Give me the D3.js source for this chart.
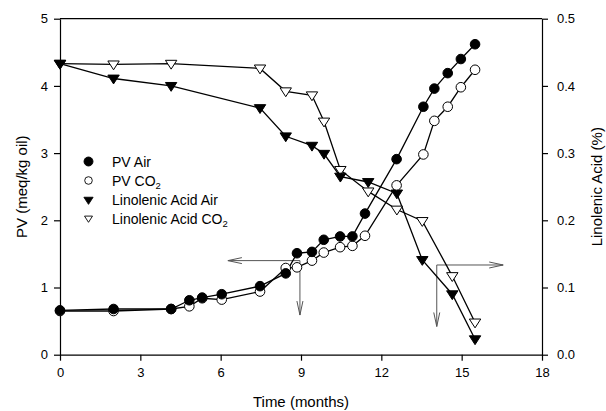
<!DOCTYPE html>
<html><head><meta charset="utf-8">
<script src="https://cdn.jsdelivr.net/npm/d3@7"></script>
<style>body{margin:0;background:#fff}svg{display:block}text{font-family:Arial,"Liberation Sans",sans-serif;fill:#000}</style>
</head><body><svg id="c" width="606" height="411"></svg>
<script>
const pvTime = [0, 2, 4.15, 4.83, 5.31, 6.04, 7.47, 8.43, 8.85, 9.41, 9.85, 10.46, 10.92, 11.39, 12.57, 13.57, 13.98, 14.48, 14.97, 15.5];
const pvAir  = [0.66, 0.68, 0.68, 0.81, 0.85, 0.90, 1.02, 1.21, 1.51, 1.53, 1.71, 1.76, 1.76, 2.10, 2.91, 3.69, 3.96, 4.19, 4.40, 4.62];
const pvCO2  = [0.65, 0.65, 0.68, 0.72, 0.84, 0.82, 0.94, 1.29, 1.30, 1.40, 1.52, 1.60, 1.62, 1.77, 2.52, 2.98, 3.48, 3.69, 3.98, 4.24];
const laTime = [0, 2, 4.15, 7.47, 8.43, 9.41, 9.86, 10.47, 11.51, 12.58, 13.53, 14.65, 15.5];
const laAir  = [0.433, 0.411, 0.400, 0.367, 0.325, 0.311, 0.299, 0.265, 0.257, 0.240, 0.141, 0.090, 0.023];
const laCO2  = [0.433, 0.432, 0.433, 0.426, 0.392, 0.386, 0.347, 0.275, 0.243, 0.216, 0.199, 0.117, 0.048];
const xTicks = [0, 3, 6, 9, 12, 15, 18];
const yLeftTicks = [0, 1, 2, 3, 4, 5];
const yRightTicks = [0.0, 0.1, 0.2, 0.3, 0.4, 0.5];
const legendLabels = ["PV Air", "PV CO", "Linolenic Acid Air", "Linolenic Acid CO"];
// annotation arrows in data units: corner time, corner PV, horizontal end time, vertical end PV
const arrow1 = {t: 8.96, pv: 1.40, tEnd: 6.27, pvEnd: 0.59};
const arrow2 = {t: 14.07, pv: 1.335, tEnd: 16.55, pvEnd: 0.42};

const svg = d3.select("#c");
const L = 60, R = 542, T = 18.7, B = 354.7;
const x = d3.scaleLinear().domain([0, 18]).range([L, R]);
const yL = d3.scaleLinear().domain([0, 5]).range([B, T]);
const yR = d3.scaleLinear().domain([0, 0.5]).range([B, T]);

svg.append("line").attr("x1", L).attr("x2", R).attr("y1", T).attr("y2", T).attr("stroke", "#000").attr("stroke-width", 1.2);

function styleAxis(g) {
  g.selectAll("path").attr("stroke", "#000").attr("stroke-width", 1.2);
  g.selectAll("line").attr("stroke", "#000").attr("stroke-width", 1.2);
  g.selectAll("text").attr("font-size", 13).attr("font-family", "Arial, 'Liberation Sans', sans-serif");
}
svg.append("g").attr("transform", `translate(0,${B})`)
  .call(d3.axisBottom(x).tickValues(xTicks).tickSize(6).tickSizeOuter(0).tickPadding(7).tickFormat(d3.format("d")))
  .call(styleAxis);
svg.append("g").attr("transform", `translate(${L},0)`)
  .call(d3.axisLeft(yL).tickValues(yLeftTicks).tickSize(6).tickSizeOuter(0).tickPadding(6).tickFormat(d3.format("d")))
  .call(styleAxis);
svg.append("g").attr("transform", `translate(${R},0)`)
  .call(d3.axisRight(yR).tickValues(yRightTicks).tickSize(6).tickSizeOuter(0).tickPadding(9).tickFormat(d3.format(".1f")))
  .call(styleAxis);

svg.append("text").attr("x", 301).attr("y", 407).attr("text-anchor", "middle").attr("font-size", 15).text("Time (months)");
svg.append("text").attr("transform", `translate(27,${(T + B) / 2}) rotate(-90)`).attr("text-anchor", "middle").attr("font-size", 15).text("PV (meq/kg oil)");
svg.append("text").attr("transform", `translate(602,${(T + B) / 2}) rotate(-90)`).attr("text-anchor", "middle").attr("font-size", 15).text("Linolenic Acid (%)");

const arrowColor = "#555";
function drawHead(x0, y0, dx, dy) {
  const len = 14, half = 3;
  const px = -dy, py = dx;
  const pts = [[x0 - dx * len + px * half, y0 - dy * len + py * half], [x0, y0], [x0 - dx * len - px * half, y0 - dy * len - py * half]];
  svg.append("path").attr("d", d3.line()(pts)).attr("fill", "none").attr("stroke", arrowColor).attr("stroke-width", 1);
}
function drawArrow(a, dir) {
  const cx = x(a.t), cy = yL(a.pv);
  svg.append("line").attr("x1", cx).attr("y1", cy).attr("x2", x(a.tEnd)).attr("y2", cy).attr("stroke", arrowColor).attr("stroke-width", 1);
  svg.append("line").attr("x1", cx).attr("y1", cy).attr("x2", cx).attr("y2", yL(a.pvEnd)).attr("stroke", arrowColor).attr("stroke-width", 1);
  drawHead(x(a.tEnd), cy, dir, 0);
  drawHead(cx, yL(a.pvEnd), 0, 1);
}
drawArrow(arrow1, -1);
drawArrow(arrow2, 1);

const lineL = d3.line().x(d => x(d[0])).y(d => yL(d[1]));
const lineR = d3.line().x(d => x(d[0])).y(d => yR(d[1]));
const series = [
  {t: laTime, v: laCO2, gen: lineR, sy: yR, shape: "tri", fill: "#fff"},
  {t: laTime, v: laAir, gen: lineR, sy: yR, shape: "tri", fill: "#000"},
  {t: pvTime, v: pvCO2, gen: lineL, sy: yL, shape: "circ", fill: "#fff"},
  {t: pvTime, v: pvAir, gen: lineL, sy: yL, shape: "circ", fill: "#000"}
];
series.forEach(s => {
  const data = s.t.map((t, i) => [t, s.v[i]]);
  svg.append("path").attr("d", s.gen(data)).attr("fill", "none").attr("stroke", "#000").attr("stroke-width", 1.3);
});
function marker(g, shape, fill, cx, cy) {
  if (shape === "circ") {
    g.append("circle").attr("cx", cx).attr("cy", cy).attr("r", 4.8).attr("fill", fill).attr("stroke", "#000").attr("stroke-width", 1);
  } else {
    const h = 5.7;
    g.append("path").attr("d", `M${cx - h},${cy - h * 0.6}L${cx + h},${cy - h * 0.6}L${cx},${cy + h * 0.95}Z`)
      .attr("fill", fill).attr("stroke", "#000").attr("stroke-width", 1);
  }
}
series.forEach(s => {
  const g = svg.append("g");
  s.t.forEach((t, i) => marker(g, s.shape, s.fill, x(t), s.sy(s.v[i])));
});

const leg = svg.append("g");
const legShapes = [["circ", "#000"], ["circ", "#fff"], ["tri", "#000"], ["tri", "#fff"]];
const legY = [161.5, 180.5, 200, 218.5];
legendLabels.forEach((lab, i) => {
  const g = leg.append("g");
  const cy = legY[i];
  if (legShapes[i][0] === "circ") {
    g.append("circle").attr("cx", 88.5).attr("cy", cy).attr("r", i === 0 ? 4.5 : 3.8).attr("fill", legShapes[i][1]).attr("stroke", "#000").attr("stroke-width", 0.9);
  } else {
    const h = i === 2 ? 4.6 : 4;
    g.append("path").attr("d", `M${88.5 - h},${cy - h * 0.6}L${88.5 + h},${cy - h * 0.6}L${88.5},${cy + h * 0.95}Z`)
      .attr("fill", legShapes[i][1]).attr("stroke", "#000").attr("stroke-width", 0.9);
  }
  const tx = g.append("text").attr("x", 112).attr("y", cy + 5).attr("font-size", 14).text(lab);
  if (i % 2 === 1) tx.append("tspan").attr("font-size", 9.5).attr("dy", 3).text("2");
});
</script></body></html>
